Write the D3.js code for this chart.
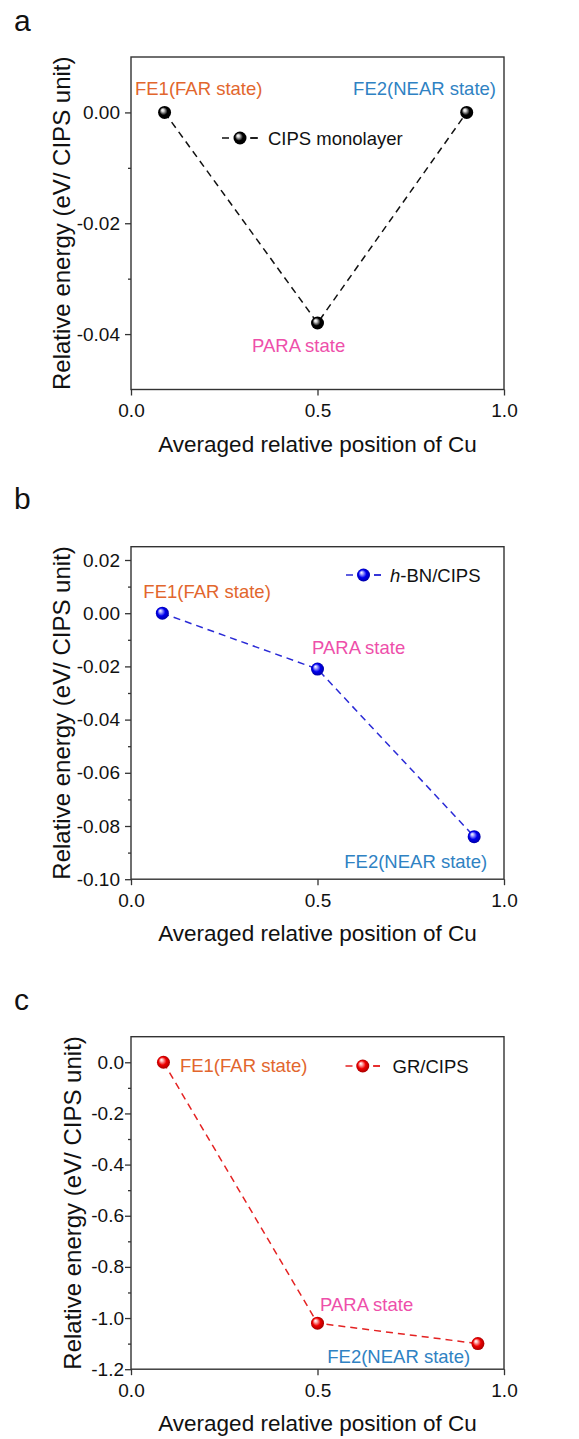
<!DOCTYPE html>
<html><head><meta charset="utf-8">
<script src="https://cdn.jsdelivr.net/npm/d3@7"></script>
<style>body{margin:0;background:#fff} svg{display:block} text{font-family:"Liberation Sans",Arial,sans-serif}</style>
</head><body><svg id="chart" width="579" height="1439"></svg>
<script>
// ---------- data ----------
const xTickValues = [0, 0.5, 1.0];
const stateNames = ["FE1(FAR state)", "PARA state", "FE2(NEAR state)"];
const monoX = [0.09, 0.5, 0.9];
const monoY = [0, -0.038, 0];
const bnX = [0.084, 0.5, 0.92];
const bnY = [0, -0.021, -0.084];
const grX = [0.087, 0.5, 0.93];
const grY = [0, -1.02, -1.10];
const seriesNames = ["CIPS monolayer", "h-BN/CIPS", "GR/CIPS"];
const panelLetters = ["a", "b", "c"];
const yDomains = [[-0.05, 0.01], [-0.10, 0.025], [-1.2, 0.1]];
const yMajorTicks = [[0, -0.02, -0.04], [0.02, 0, -0.02, -0.04, -0.06, -0.08, -0.10], [0, -0.2, -0.4, -0.6, -0.8, -1.0, -1.2]];
const yMinorTicks = [[-0.01, -0.03], [0.01, -0.01, -0.03, -0.05, -0.07, -0.09], [-0.1, -0.3, -0.5, -0.7, -0.9, -1.1]];
const yTickFormats = [".2f", ".2f", ".1f"];
const xTitle = "Averaged relative position of Cu";
const yTitle = "Relative energy (eV/ CIPS unit)";

// ---------- styling / layout ----------
const W = 579;
const xL = 131, xR = 504, plotH = 332.5;
const plotTops = [57, 546.7, 1036.7];
const letterBase = [31, 509, 1010];
const yTitleX = [70, 70, 81];
const yLabelPad = [11, 11, 7];
const labelColors = ["#E2662D", "#EE4FAA", "#2F82C3"];
const lineColors = ["#111111", "#2a2ad6", "#e42222"];
const ballColors = ["#000000", "#0000ee", "#ee0000"];
const ballLight = ["#d8d8d8", "#b8b8ff", "#ffc0c0"];
// annotation offsets from each point: [dx, dy, anchor]
const labelOffsets = [
  [[-29.6, -17, "start"], [-65.5, 29, "start"], [29.3, -17, "end"]],
  [[-19, -15, "start"], [-5.5, -15, "start"], [13, 31, "end"]],
  [[16.5, 10, "start"], [2.5, -12, "start"], [-7.7, 19, "end"]]
];
// legend: [lineX0, lineX1, yOffsetFromTop, textX]
const legendPos = [[222, 258, 81, 268], [346, 381, 28.3, 390], [345.5, 380, 29.3, 392.5]];

const loc = d3.formatLocale({decimal: ".", thousands: ",", grouping: [3], currency: ["$", ""], minus: "-"});
const svg = d3.select("#chart");
const defs = svg.append("defs");
ballColors.forEach((c, i) => {
  const g = defs.append("radialGradient").attr("id", "ball" + i)
    .attr("cx", "50%").attr("cy", "50%").attr("r", "55%").attr("fx", "33%").attr("fy", "30%");
  g.append("stop").attr("offset", "0%").attr("stop-color", "#ffffff");
  g.append("stop").attr("offset", "18%").attr("stop-color", ballLight[i]);
  g.append("stop").attr("offset", "55%").attr("stop-color", c);
  g.append("stop").attr("offset", "100%").attr("stop-color", d3.color(c).darker(1.2));
});

const seriesX = [monoX, bnX, grX];
const seriesY = [monoY, bnY, grY];
const fontTick = 19, fontAnn = 18.5;

panelLetters.forEach((letter, p) => {
  const top = plotTops[p], bottom = top + plotH;
  const x = d3.scaleLinear().domain([0, 1]).range([xL, xR]);
  const y = d3.scaleLinear().domain(yDomains[p]).range([bottom, top]);
  const g = svg.append("g");

  g.append("text").attr("x", 14).attr("y", letterBase[p]).attr("font-size", 30).attr("fill", "#111").text(letter);

  // minor y ticks
  const minor = g.append("g").attr("transform", `translate(${xL},0)`)
    .call(d3.axisLeft(y).tickValues(yMinorTicks[p]).tickSize(3).tickFormat(""));
  minor.select(".domain").remove();
  // major y ticks
  const ya = g.append("g").attr("transform", `translate(${xL},0)`)
    .call(d3.axisLeft(y).tickValues(yMajorTicks[p]).tickSize(6).tickPadding(yLabelPad[p] - 6).tickFormat(loc.format(yTickFormats[p])));
  ya.select(".domain").remove();
  ya.selectAll("text").attr("font-size", fontTick).attr("fill", "#111").attr("font-family", "Liberation Sans, Arial, sans-serif");
  // x ticks
  const xa = g.append("g").attr("transform", `translate(0,${bottom})`)
    .call(d3.axisBottom(x).tickValues(xTickValues).tickSize(6).tickPadding(3).tickFormat(loc.format(".1f")));
  xa.select(".domain").remove();
  xa.selectAll("text").attr("font-size", fontTick).attr("fill", "#111").attr("font-family", "Liberation Sans, Arial, sans-serif")
    .attr("dy", null).attr("y", 27.5 - 0).attr("dominant-baseline", "auto");
  g.selectAll(".tick line").attr("stroke", "#333").attr("stroke-width", 1.3);

  // frame
  g.append("rect").attr("x", xL).attr("y", top).attr("width", xR - xL).attr("height", plotH)
    .attr("fill", "none").attr("stroke", "#333").attr("stroke-width", 1.4);

  // titles
  g.append("text").attr("x", (xL + xR) / 2).attr("y", bottom + 62).attr("text-anchor", "middle")
    .attr("font-size", 22.5).attr("fill", "#111").text(xTitle);
  g.append("text").attr("transform", `translate(${yTitleX[p]},${(top + bottom) / 2}) rotate(-90)`)
    .attr("text-anchor", "middle").attr("font-size", 24).attr("fill", "#111").text(yTitle);

  // data
  const pts = seriesX[p].map((v, i) => ({x: v, y: seriesY[p][i], name: stateNames[i]}));
  g.append("path").datum(pts)
    .attr("d", d3.line().x(d => x(d.x)).y(d => y(d.y)))
    .attr("fill", "none").attr("stroke", lineColors[p]).attr("stroke-width", 1.5).attr("stroke-dasharray", "7,5");
  g.selectAll("circle.pt").data(pts).join("circle").attr("class", "pt")
    .attr("cx", d => x(d.x)).attr("cy", d => y(d.y)).attr("r", 6.5).attr("fill", `url(#ball${p})`);
  g.selectAll("text.ann").data(pts).join("text").attr("class", "ann")
    .attr("x", (d, i) => x(d.x) + labelOffsets[p][i][0])
    .attr("y", (d, i) => y(d.y) + labelOffsets[p][i][1])
    .attr("text-anchor", (d, i) => labelOffsets[p][i][2])
    .attr("font-size", fontAnn).attr("fill", (d, i) => labelColors[i])
    .text(d => d.name);

  // legend
  const [lx0, lx1, ly, tx] = legendPos[p];
  const lyy = top + ly;
  g.append("line").attr("x1", lx0).attr("x2", lx1).attr("y1", lyy).attr("y2", lyy)
    .attr("stroke", lineColors[p]).attr("stroke-width", 1.5).attr("stroke-dasharray", "7,21");
  g.append("line").attr("x1", lx1 - 7).attr("x2", lx1).attr("y1", lyy).attr("y2", lyy)
    .attr("stroke", lineColors[p]).attr("stroke-width", 1.5);
  g.append("circle").attr("cx", (lx0 + lx1) / 2).attr("cy", lyy).attr("r", 6.5).attr("fill", `url(#ball${p})`);
  const lt = g.append("text").attr("x", tx).attr("y", lyy + 6.5).attr("font-size", fontAnn).attr("fill", "#111");
  const nm = seriesNames[p];
  if (nm.startsWith("h-")) {
    lt.append("tspan").attr("font-style", "italic").text("h");
    lt.append("tspan").text(nm.slice(1));
  } else {
    lt.text(nm);
  }
});
</script>
</body></html>
